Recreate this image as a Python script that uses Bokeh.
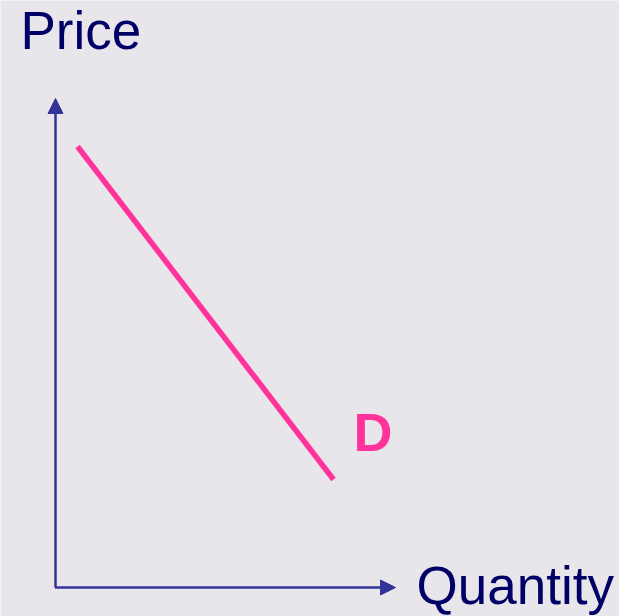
from bokeh.plotting import figure
from bokeh.models import Range1d, Arrow, NormalHead, ColumnDataSource
from bokeh.core.properties import value
from bokeh.embed import file_html
from bokeh.resources import INLINE

# Data
axis_labels = ["Price", "Quantity"]
quantity_axis_max = 34.0
price_axis_max = 48.9
demand_quantity = [2.2, 27.8]
demand_price = [44.1, 10.8]
curve_label = "D"

BG = "#E8E6EA"
AXIS = "#333399"
TEXT = "#000066"
PINK = "#FF3399"
FONT = "Liberation Sans"

p = figure(width=619, height=616, output_backend="svg", toolbar_location=None,
           x_range=Range1d(-5.5, 56.4), y_range=Range1d(-2.9, 58.7),
           min_border=0)
p.axis.visible = False
p.grid.visible = False
p.outline_line_color = None
p.background_fill_color = BG
p.border_fill_color = BG

# Axes as arrows
p.add_layout(Arrow(end=NormalHead(size=15, fill_color=AXIS, line_color=AXIS, line_width=1),
                   x_start=0, y_start=0, x_end=0, y_end=price_axis_max,
                   line_color=AXIS, line_width=2.5))
p.add_layout(Arrow(end=NormalHead(size=15, fill_color=AXIS, line_color=AXIS, line_width=1),
                   x_start=-0.05, y_start=0, x_end=quantity_axis_max, y_end=0,
                   line_color=AXIS, line_width=2.5))

# Demand curve
src = ColumnDataSource(dict(q=demand_quantity, pr=demand_price))
p.line("q", "pr", source=src, line_color=PINK, line_width=5.5)

# Labels
p.text(x=[-3.5], y=[55.7], text=[axis_labels[0]], text_font=value(FONT),
       text_font_size="53px", text_color=TEXT, text_align="left",
       text_baseline="alphabetic")
p.text(x=[36.1], y=[0.2], text=[axis_labels[1]], text_font=value(FONT),
       text_font_size="53px", text_color=TEXT, text_align="left",
       text_baseline="alphabetic")
p.text(x=[29.8], y=[15.6], text=[curve_label], text_font=value(FONT),
       text_font_size="54px", text_font_style="bold", text_color=PINK,
       text_align="left", text_baseline="alphabetic")

open("out.html", "w").write(file_html(p, INLINE))
